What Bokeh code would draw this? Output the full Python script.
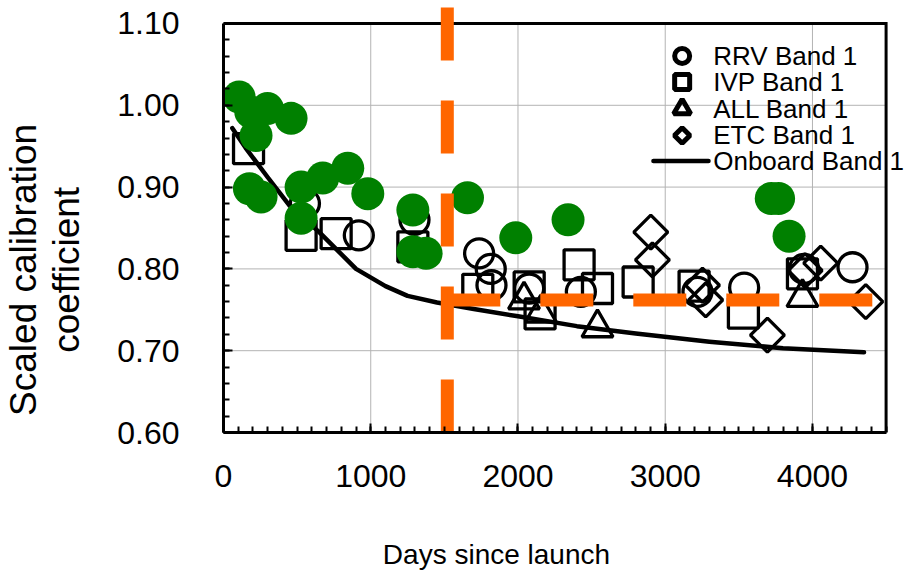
import numpy as np
from bokeh.plotting import figure
from bokeh.models import Range1d, FixedTicker, PrintfTickFormatter, Label
from bokeh.embed import file_html
from bokeh.resources import INLINE

FONT = "Liberation Sans"

# ---------------- data ----------------
green_days = [106, 185, 299, 221, 459, 176, 255, 527, 527, 674, 844, 980, 1286,
              1286, 1376, 1657, 1985, 2340, 3720, 3770, 3841]
green_vals = [1.010, 0.992, 0.996, 0.963, 0.984, 0.898, 0.888, 0.900, 0.862, 0.911,
              0.923, 0.892, 0.872, 0.821, 0.819, 0.887, 0.838, 0.860, 0.886, 0.886, 0.840]

rrv_days = [553, 919, 1297, 1736, 1815, 1820, 2076, 2427, 3219, 3536, 3943, 4272]
rrv_vals = [0.880, 0.841, 0.860, 0.819, 0.800, 0.780, 0.776, 0.772, 0.772, 0.777, 0.800, 0.802]

ivp_days = [170, 527, 765, 1286, 1727, 2076, 2150, 2415, 2540, 2816, 3196, 3531, 3932]
ivp_vals = [0.947, 0.841, 0.843, 0.827, 0.775, 0.778, 0.745, 0.805, 0.776, 0.784, 0.779, 0.746, 0.794]

all_days = [2041, 2155, 2540, 3932]
all_vals = [0.762, 0.746, 0.728, 0.765]

etc_days = [2902, 2913, 3253, 3275, 3694, 3950, 4056, 4362]
etc_vals = [0.845, 0.811, 0.780, 0.762, 0.719, 0.798, 0.807, 0.760]

onboard_days = [60, 150, 300, 450, 650, 900, 1100, 1250, 1450, 1700, 2000, 2400,
                2800, 3300, 3800, 4350]
onboard_vals = [0.972, 0.948, 0.912, 0.877, 0.845, 0.800, 0.779, 0.767, 0.759, 0.751,
                0.742, 0.730, 0.721, 0.711, 0.703, 0.698]

change_day = 1520          # vertical orange dashed line
mean_level = 0.762         # horizontal orange dashed line
mean_end_day = 4417

legend_labels = ["RRV Band 1", "IVP Band 1", "ALL Band 1", "ETC Band 1", "Onboard Band 1"]

x_ticks = [0, 1000, 2000, 3000, 4000]
y_ticks = [0.60, 0.70, 0.80, 0.90, 1.00, 1.10]
x_title = "Days since launch"
y_title = ["Scaled calibration", "coefficient"]

X_MAX = 4500
Y_MIN, Y_MAX = 0.60, 1.10
NB = "\u00a0"

# ---------------- figure ----------------
p = figure(width=909, height=583, output_backend="svg", toolbar_location=None,
           x_range=Range1d(0, 4659), y_range=Range1d(Y_MIN, 1.1232),
           min_border_left=223, min_border_right=0, min_border_top=4,
           min_border_bottom=151)
p.outline_line_color = None
p.grid.visible = False
p.background_fill_color = "white"
p.border_fill_color = "white"

xa = p.xaxis[0]
xa.bounds = (0, X_MAX)
xa.ticker = FixedTicker(ticks=x_ticks, minor_ticks=list(range(0, X_MAX + 1, 100)))
ya = p.yaxis[0]
ya.bounds = (Y_MIN, Y_MAX)
ya.ticker = FixedTicker(ticks=y_ticks,
                        minor_ticks=[round(Y_MIN + 0.02 * i, 2) for i in range(26)])
ya.formatter = PrintfTickFormatter(format="%.2f")
for ax in (xa, ya):
    ax.axis_line_width = 3
    ax.axis_line_color = "black"
    ax.major_tick_in = 9
    ax.major_tick_out = 0
    ax.minor_tick_in = 6
    ax.minor_tick_out = 0
    ax.major_tick_line_width = 2
    ax.minor_tick_line_width = 2
    ax.major_tick_line_color = "black"
    ax.minor_tick_line_color = "black"
    ax.major_label_text_font = FONT
    ax.major_label_text_color = "black"
    ax.axis_label_text_font = FONT
    ax.axis_label_text_color = "black"
    ax.axis_label_text_font_style = "normal"
xa.major_label_text_font_size = "32px"
xa.major_label_standoff = 32
ya.major_label_text_font_size = "32px"
ya.major_label_standoff = 44

# axis titles (non-breaking padding shifts the centred title to where it sits)
xa.axis_label = x_title + NB * 18
xa.axis_label_text_font_size = "28px"
xa.axis_label_standoff = 49
ya.axis_label = "\n".join(t + NB * 10 for t in y_title)
ya.axis_label_text_font_size = "37px"
ya.axis_label_text_line_height = 1.05
ya.axis_label_standoff = 27

# gridlines
p.segment(x0=x_ticks[1:], y0=[Y_MIN] * 4, x1=x_ticks[1:], y1=[Y_MAX] * 4,
          line_color="#b3b3b3", line_width=1)
p.segment(x0=[0] * 4, y0=y_ticks[1:5], x1=[X_MAX] * 4, y1=y_ticks[1:5],
          line_color="#b3b3b3", line_width=1)
# top and right frame border
p.line([0, X_MAX, X_MAX], [Y_MAX, Y_MAX, Y_MIN], line_color="black", line_width=3,
       line_join="miter")

# onboard line
p.line(onboard_days, onboard_vals, line_color="black", line_width=4.5,
       line_join="round", line_cap="round")

# open markers
mk = dict(fill_color=None, line_color="black", line_width=3.3)
p.scatter(rrv_days, rrv_vals, marker="circle", size=29, **mk)
p.scatter(ivp_days, ivp_vals, marker="square", size=30, **mk)
p.scatter(all_days, all_vals, marker="triangle", size=31, **mk)
p.scatter(etc_days, etc_vals, marker="square", angle=np.pi / 4, size=24, **mk)

# green filled circles
p.scatter(green_days, green_vals, marker="circle", size=33, fill_color="#008000",
          line_color=None)

# orange dashed lines
p.line([change_day, change_day], [Y_MIN, 1.1211], line_color="#FF6600", line_width=13,
       line_dash="53 40", line_cap="butt")
p.line([change_day, mean_end_day], [mean_level, mean_level], line_color="#FF6600",
       line_width=13, line_dash="53 40", line_cap="butt")

# legend (manual)
rows = [1.0603, 1.0285, 0.9955, 0.9631, 0.9320]
lx = 3115
lmk = dict(fill_color=None, line_color="black", line_width=5)
p.scatter([lx], [rows[0]], marker="circle", size=15, **lmk)
p.scatter([lx], [rows[1]], marker="square", size=15, **lmk)
p.scatter([lx], [rows[2]], marker="triangle", size=17, **lmk)
p.scatter([lx], [rows[3]], marker="square", angle=np.pi / 4, size=11, **lmk)
p.line([2920, 3294], [rows[4], rows[4]], line_color="black", line_width=4.5,
       line_cap="round")
for r, t in zip(rows, legend_labels):
    p.add_layout(Label(x=3326, y=r, text=t, text_font=FONT, text_font_size="26px",
                       text_color="black", text_align="left", text_baseline="middle"))

open("out.html", "w").write(file_html(p, INLINE))
